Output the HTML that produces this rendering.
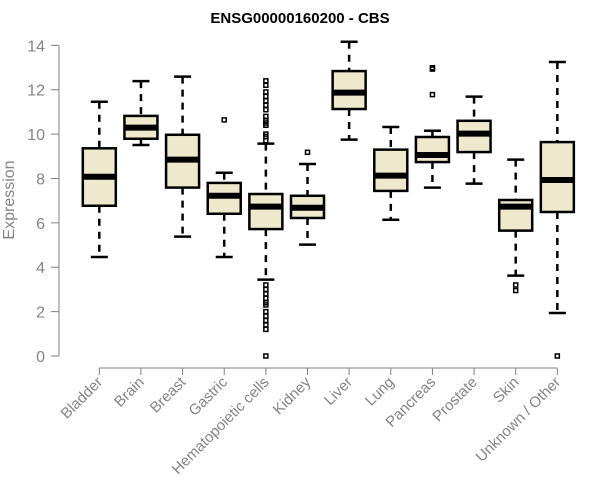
<!DOCTYPE html>
<html><head><meta charset="utf-8"><style>
body{margin:0;background:#fff;}
svg{display:block;font-family:"Liberation Sans",Arial,sans-serif;}
</style></head><body>
<svg id="chart" width="600" height="500">
<text x="300" y="23" text-anchor="middle" font-size="15" font-weight="bold" fill="#000">ENSG00000160200 - CBS</text>
<text transform="translate(14,200) rotate(-90)" text-anchor="middle" font-size="16" fill="#848484">Expression</text>
<g id="yaxis"></g>
<g id="xaxis"></g>
<g id="boxes"></g>
</svg>
<script>
const categories=["Bladder","Brain","Breast","Gastric","Hematopoietic cells","Kidney","Liver","Lung","Pancreas","Prostate","Skin","Unknown / Other"];
const whiskerLow=[4.46,9.51,5.38,4.46,3.44,5.02,9.75,6.14,7.59,7.77,3.62,1.94];
const q1=[6.77,9.79,7.59,6.41,5.72,6.22,11.13,7.44,8.74,9.19,5.65,6.49];
const medians=[8.08,10.29,8.85,7.22,6.73,6.68,11.87,8.13,9.06,10.02,6.73,7.93];
const q3=[9.36,10.82,9.97,7.8,7.3,7.22,12.84,9.3,9.87,10.6,7.03,9.64];
const whiskerHigh=[11.46,12.39,12.59,8.26,9.57,8.65,14.16,10.32,10.15,11.69,8.85,13.25];
const outliers=[[],[],[],[10.64],[9.7,9.9,10.0,10.4,10.5,10.6,10.8,11.1,11.3,11.5,11.7,11.9,12.2,12.4,3.2,3.0,2.8,2.6,2.4,2.3,2.0,1.8,1.6,1.4,1.2,0],[9.18],[],[],[12.93,12.99,11.78],[],[3.2,2.95],[0]];
const yTicks=[0,2,4,6,8,10,12,14];

const NS="http://www.w3.org/2000/svg";
function y(v){return 356-v*22.19;}
function x(i){return 99.3+i*41.64;}
function mk(tag,attrs,parent){const e=document.createElementNS(NS,tag);for(const k in attrs)e.setAttribute(k,attrs[k]);parent.appendChild(e);return e;}
const ya=document.getElementById('yaxis'),xa=document.getElementById('xaxis'),bx=document.getElementById('boxes');
const axisCol="#808080",labCol="#848484";
let l=mk('line',{x1:59,x2:59,y1:y(14),y2:y(0),stroke:axisCol,'stroke-width':1},ya);


yTicks.forEach(t=>{
  const tk=mk('line',{x1:51,x2:59,y1:y(t),y2:y(t),stroke:axisCol},ya);
  
  
  const tx=mk('text',{x:45,y:y(t)+6,'text-anchor':'end','font-size':16,fill:labCol},ya);
  tx.textContent=t;
  
  
});
l=mk('line',{x1:x(0),x2:x(categories.length-1),y1:368,y2:368,stroke:axisCol},xa);


categories.forEach((c,i)=>{
  const cx=x(i);
  const tk=mk('line',{x1:cx,x2:cx,y1:368,y2:375,stroke:axisCol},xa);
  
  
  const tx=mk('text',{transform:`translate(${cx+4},${383}) rotate(-45)`,'text-anchor':'end','font-size':15,fill:labCol},xa);
  tx.textContent=c;
  
  
  const g=mk('g',{},bx);
  
  
  const hw=16.5,cw=8.5;
  mk('line',{x1:cx,x2:cx,y1:y(whiskerHigh[i]),y2:y(q3[i]),stroke:'#000','stroke-width':2.5,'stroke-dasharray':'7,6'},g);
  mk('line',{x1:cx,x2:cx,y1:y(q1[i]),y2:y(whiskerLow[i]),stroke:'#000','stroke-width':2.5,'stroke-dasharray':'7,6'},g);
  mk('line',{x1:cx-cw,x2:cx+cw,y1:y(whiskerHigh[i]),y2:y(whiskerHigh[i]),stroke:'#000','stroke-width':2.5},g);
  mk('line',{x1:cx-cw,x2:cx+cw,y1:y(whiskerLow[i]),y2:y(whiskerLow[i]),stroke:'#000','stroke-width':2.5},g);
  mk('rect',{x:cx-hw,y:y(q3[i]),width:hw*2,height:y(q1[i])-y(q3[i]),fill:'#EEE8CD',stroke:'#000','stroke-width':2.5},g);
  mk('line',{x1:cx-hw,x2:cx+hw,y1:y(medians[i]),y2:y(medians[i]),stroke:'#000','stroke-width':6},g);
  outliers[i].forEach(o=>{
    const p=mk('rect',{x:cx-2,y:y(o)-2,width:4,height:4,fill:'none',stroke:'#000','stroke-width':1.5},g);
    
    
  });
});
</script>
</body></html>
